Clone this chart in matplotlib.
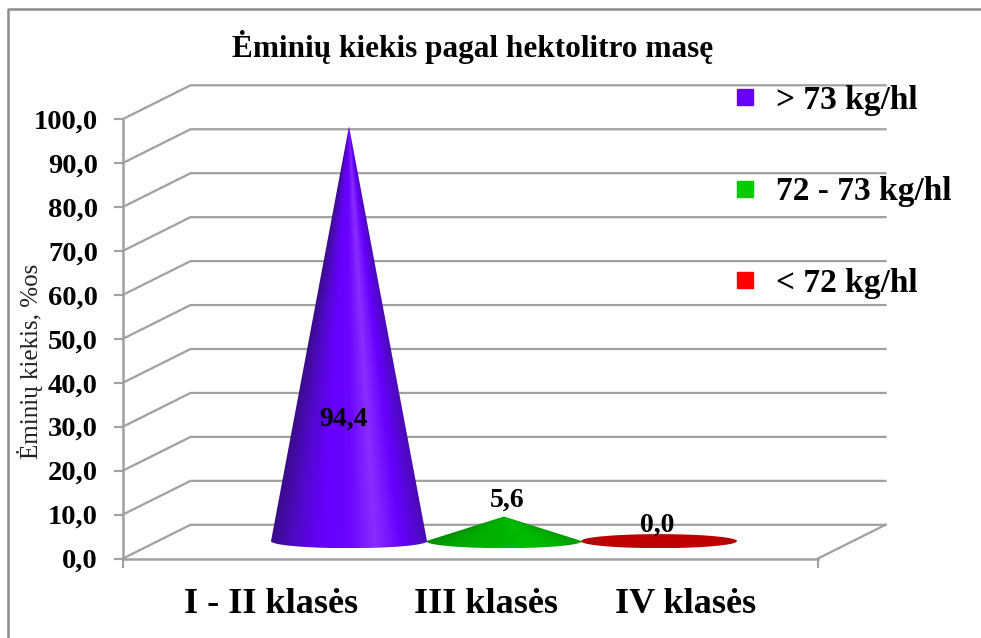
import numpy as np
import matplotlib
matplotlib.use("Agg")
import matplotlib.pyplot as plt
from matplotlib.lines import Line2D
from matplotlib.patches import PathPatch
from matplotlib.path import Path
from matplotlib.colors import to_rgb

title = "Ėminių kiekis pagal hektolitro masę"
ylabel = "Ėminių kiekis, %os"
categories = ["I - II klasės", "III klasės", "IV klasės"]
values = [94.4, 5.6, 0.0]
value_labels = ["94,4", "5,6", "0,0"]
series = ["> 73 kg/hl", "72 - 73 kg/hl", "< 72 kg/hl"]
y_ticks = [0, 10, 20, 30, 40, 50, 60, 70, 80, 90, 100]

legend_colors = ["#6600ff", "#00cc00", "#ff0000"]
gradients = [
    ["#3a0c8a", "#5208cc", "#6600ff", "#6a04ff", "#8a2cff", "#6600ff", "#4a0cb4"],
    ["#008c00", "#00a400", "#00b000", "#00b400", "#00bc00", "#00b000", "#009800"],
    ["#b00000", "#c00000", "#c00000", "#c00000", "#c00000", "#c00000", "#b00000"],
]

W, H = 981, 638
GRAY = "#a0a0a0"
plt.rcParams['font.family'] = ['Liberation Serif', 'DejaVu Serif']
plt.rcParams['font.weight'] = 'bold'

fig = plt.figure(figsize=(W / 100, H / 100), dpi=100)
# axes box = the front plane of the fake 3d chart, in pixels
left, right, top, bottom = 123, 818, 119, 558.5
ax = fig.add_axes([left / W, 1 - bottom / H, (right - left) / W, (bottom - top) / H])
ax.patch.set_visible(False)

px_x = 155.0  # one category in px
px_y = (bottom - top) / 100
x0 = -(349 - left) / px_x
x1 = (right - 349) / px_x
depth_x = 67.5 / px_x
depth_y = 33.7 / px_y

# walls
for v in y_ticks:
    ax.plot([x0, x0 + depth_x, x1 + depth_x], [v, v + depth_y, v + depth_y],
            color=GRAY, lw=1.6, clip_on=False, zorder=1, solid_joinstyle='miter')
ax.plot([x1, x1 + depth_x], [0, depth_y], color=GRAY, lw=1.6, clip_on=False, zorder=1)

# cones
base_y = 3.95
half_w = 78 / px_x
half_h = 1.6
stops = np.linspace(-1, 1, 7)
gx = np.linspace(-half_w, half_w, 500)
for i in [2, 1, 0]:
    val = values[i]
    gy = np.linspace(base_y - half_h, base_y + max(val, half_h), 500)
    xx, yy = np.meshgrid(gx, gy)
    if val > 0:
        half = np.maximum(half_w * (1 - (yy - base_y) / val), 1e-4)
        half = np.minimum(half, half_w)
    else:
        half = np.full(xx.shape, half_w)
    u = np.clip(xx / half, -1, 1)
    rgb = np.array([to_rgb(c) for c in gradients[i]])
    img = np.dstack([np.interp(u, stops, rgb[:, k]) for k in range(3)])
    t = np.linspace(np.pi, 2 * np.pi, 80)
    verts = list(zip(i + half_w * np.cos(t), base_y + half_h * np.sin(t)))
    if val > 0:
        verts.append((i, base_y + val))
    else:
        t2 = np.linspace(0, np.pi, 80)
        verts += list(zip(i + half_w * np.cos(t2), base_y + half_h * np.sin(t2)))
    verts.append(verts[0])
    patch = PathPatch(Path(verts), transform=ax.transData, fc='none', ec='none')
    ax.add_patch(patch)
    im = ax.imshow(img, extent=(i - half_w, i + half_w, gy[0], gy[-1]), origin='lower',
                   aspect='auto', zorder=2 + (2 - i), interpolation='bilinear')
    im.set_clip_path(patch)

ax.set_xlim(x0, x1)
ax.set_ylim(0, 100)

# value labels
label_dx = [-5, 3, -2]
label_y = [419, 500, 525]
for i, txt in enumerate(value_labels):
    ax.text(i + label_dx[i] / px_x, (bottom - label_y[i]) / px_y, txt, ha='center', va='center',
            fontsize=20, zorder=6)

# axes
for s in ['top', 'right']:
    ax.spines[s].set_visible(False)
for s in ['left', 'bottom']:
    ax.spines[s].set_color(GRAY)
    ax.spines[s].set_linewidth(1.8)
ax.set_yticks(y_ticks, [f"{v:.1f}".replace('.', ',') for v in y_ticks])
ax.tick_params(axis='y', length=6.5, width=1.5, color=GRAY, labelsize=20.5, pad=11.5)
cat_px = [271, 486, 686]
ax.set_xticks([(p - 349) / px_x for p in cat_px], categories)
ax.tick_params(axis='x', which='major', length=0, labelsize=26, pad=21)
ax.set_xticks([x0, x1], minor=True)
ax.tick_params(axis='x', which='minor', length=6.5, width=1.5, color=GRAY)

fig.text(30 / W, 1 - 361 / H, ylabel, rotation=90, ha='center', va='center',
         fontsize=18, fontweight='normal', color="#222222")
fig.text(473 / W, 1 - 47 / H, title, ha='center', va='center', fontsize=22.5)

handles = [Line2D([], [], ls='none', marker='s', ms=11.5, color=c, mec=c) for c in legend_colors]
fig.legend(handles, series, loc='upper left', bbox_to_anchor=(731 / W, 1 - 85 / H),
           frameon=False, fontsize=24, labelspacing=1.81, handlelength=0.85,
           handletextpad=0.51, borderpad=0, borderaxespad=0)

# outer frame
fig.add_artist(Line2D([8 / W, 8 / W, 1], [0, 1 - 9 / H, 1 - 9 / H], color="#8c8c8c", lw=1.8,
                      transform=fig.transFigure))

fig.savefig("out.png", dpi=100)
